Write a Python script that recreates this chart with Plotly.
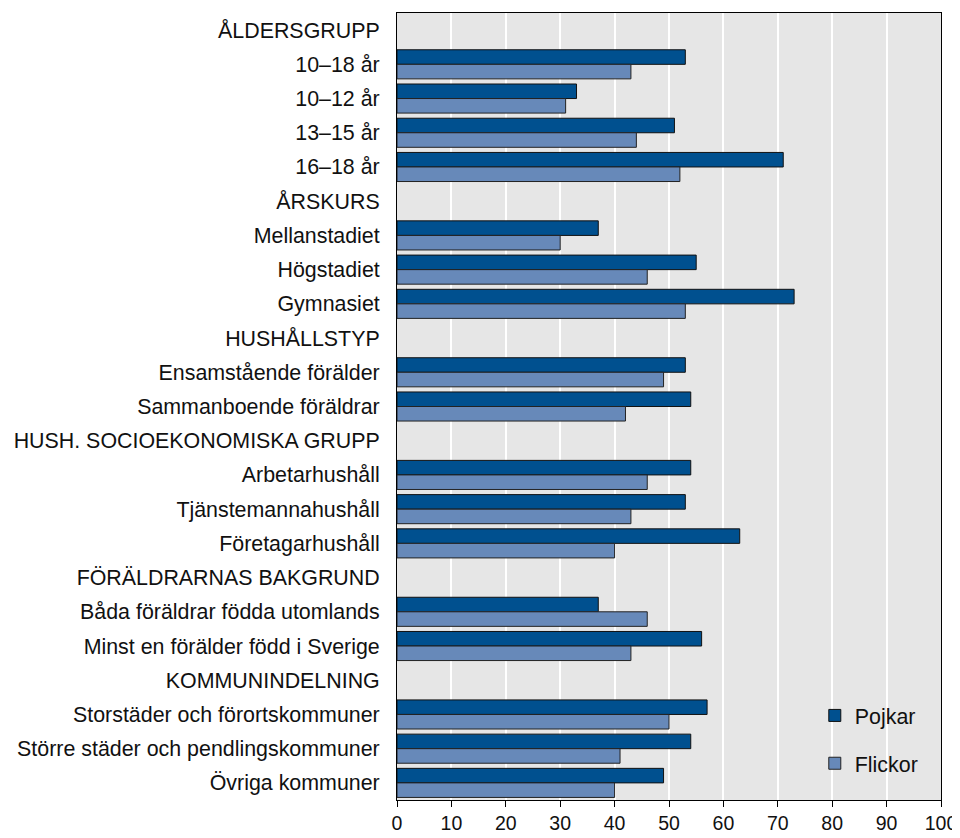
import plotly.graph_objects as go

categories = [
    "ÅLDERSGRUPP", "10–18 år", "10–12 år", "13–15 år", "16–18 år",
    "ÅRSKURS", "Mellanstadiet", "Högstadiet", "Gymnasiet",
    "HUSHÅLLSTYP", "Ensamstående förälder", "Sammanboende föräldrar",
    "HUSH. SOCIOEKONOMISKA GRUPP", "Arbetarhushåll", "Tjänstemannahushåll", "Företagarhushåll",
    "FÖRÄLDRARNAS BAKGRUND", "Båda föräldrar födda utomlands", "Minst en förälder född i Sverige",
    "KOMMUNINDELNING", "Storstäder och förortskommuner", "Större städer och pendlingskommuner",
    "Övriga kommuner",
]
pojkar = [None, 53, 33, 51, 71,
          None, 37, 55, 73,
          None, 53, 54,
          None, 54, 53, 63,
          None, 37, 56,
          None, 57, 54, 49]
flickor = [None, 43, 31, 44, 52,
           None, 30, 46, 53,
           None, 49, 42,
           None, 46, 43, 40,
           None, 46, 43,
           None, 50, 41, 40]
x_ticks = list(range(0, 101, 10))

FONT = "Liberation Sans, Arial, sans-serif"

fig = go.Figure()
fig.add_trace(go.Bar(
    y=categories, x=pojkar, name="Pojkar", orientation="h",
    marker=dict(color="#00508F", line=dict(color="#111111", width=1)),
    legendgroup="p",
))
fig.add_trace(go.Bar(
    y=categories, x=flickor, name="Flickor", orientation="h",
    marker=dict(color="#6789B9", line=dict(color="#222222", width=1)),
    legendgroup="f",
))

fig.update_layout(
    width=952, height=830,
    margin=dict(l=389, r=19, t=5, b=38),
    paper_bgcolor="white",
    plot_bgcolor="#E6E6E6",
    barmode="group", bargap=0.15, bargroupgap=0,
    font=dict(family=FONT, size=21.4, color="#111111"),
    showlegend=True,
    legend=dict(
        x=0.768, y=0.1334, xanchor="left", yanchor="top",
        bgcolor="rgba(0,0,0,0)", traceorder="grouped", tracegroupgap=17,
        font=dict(size=21.4),
    ),
    xaxis=dict(
        range=[0, 100], tickvals=x_ticks, ticktext=[str(v) for v in x_ticks],
        tickfont=dict(size=19.5),
        ticks="outside", ticklen=6, tickcolor="black", tickwidth=1,
        showgrid=True, gridcolor="white", gridwidth=2,
        showline=True, linecolor="black", linewidth=1, mirror=True,
        zeroline=False, fixedrange=True, automargin=False,
    ),
    yaxis=dict(
        categoryorder="array", categoryarray=categories,
        autorange="reversed",
        ticks="", showgrid=False,
        showline=True, linecolor="black", linewidth=1, mirror=True,
        ticklabelstandoff=12, automargin=False,
    ),
)

fig.write_html("out.html")
